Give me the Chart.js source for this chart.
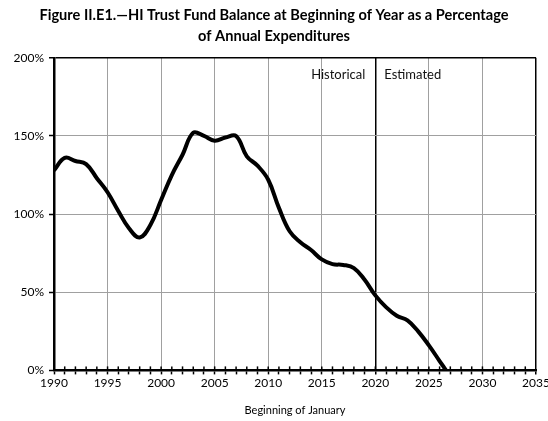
<!DOCTYPE html>
<html>
<head>
<meta charset="utf-8">
<script src="https://cdn.jsdelivr.net/npm/chart.js@4"></script>
<style>
html,body{margin:0;padding:0;background:#fff;}
#wrap{width:548px;height:421px;}
</style>
</head>
<body>
<div id="wrap"><canvas id="c"></canvas></div>
<script>
const titleLines = ["Figure II.E1.\u2014HI Trust Fund Balance at Beginning of Year as a Percentage", "of Annual Expenditures"];
const xAxisTitle = "Beginning of January";
const years = [1990,1991,1992,1993,1994,1995,1996,1997,1998,1999,2000,2001,2002,2003,2004,2005,2006,2007,2008,2009,2010,2011,2012,2013,2014,2015,2016,2017,2018,2019,2020,2021,2022,2023,2024,2025,2026,2026.6];
const balancePct = [128,136,134,132,123,114,102,91,85,93,109,125,138,152,150,147,149,150,137,131,122,104,89,82,77,71,68,67.5,65.5,58,48,40.5,35,32,25,16,6,0];
const historicalLabel = "Historical";
const estimatedLabel = "Estimated";
const dividerYear = 2020;
const xMin = 1990, xMax = 2035, yMin = 0, yMax = 200;

const FONT = "Lato, 'Open Sans', sans-serif";

const overlay = {
  id: 'overlay',
  afterDatasetsDraw(chart) {
    const ctx = chart.ctx;
    const xs = chart.scales.x, ys = chart.scales.y;
    const y0 = ys.getPixelForValue(0);
    ctx.save();
    ctx.strokeStyle = '#000';
    ctx.lineWidth = 1.5;
    for (let v = xMin + 1; v < xMax; v++) {
      const px = xs.getPixelForValue(v);
      ctx.beginPath();
      ctx.moveTo(px, y0);
      ctx.lineTo(px, y0 - 4);
      ctx.stroke();
    }
    const dx = xs.getPixelForValue(dividerYear);
    const ty = ys.getPixelForValue(189);
    ctx.fillStyle = '#111';
    ctx.font = "13px " + FONT;
    ctx.textBaseline = 'middle';
    ctx.textAlign = 'right';
    ctx.fillText(historicalLabel, dx - 10, ty);
    ctx.textAlign = 'left';
    ctx.fillText(estimatedLabel, dx + 9, ty);
    ctx.restore();
  }
};

new Chart(document.getElementById('c'), {
  type: 'line',
  data: {
    datasets: [{
      data: years.map((y, i) => ({x: y, y: balancePct[i]})),
      borderColor: '#000',
      borderWidth: 4,
      pointRadius: 0,
      tension: 0.4,
      fill: false
    }]
  },
  options: {
    responsive: true,
    maintainAspectRatio: false,
    animation: false,
    layout: {padding: {left: 0, right: 0, top: 0, bottom: 4}},
    plugins: {
      legend: {display: false},
      tooltip: {enabled: false},
      title: {
        display: true,
        text: titleLines,
        color: '#000',
        font: {family: FONT, size: 14.6, weight: 'bold', lineHeight: 1.45},
        padding: {top: 4.5, bottom: 11}
      }
    },
    scales: {
      x: {
        type: 'linear',
        min: xMin, max: xMax,
        ticks: {
          stepSize: 1,
          autoSkip: false,
          maxRotation: 0,
          color: '#000',
          font: {family: FONT, size: 12},
          padding: 2,
          callback: v => (v % 5 === 0 ? String(v) : '')
        },
        grid: {
          color: c => {
            const v = c.tick ? c.tick.value : null;
            if (v === dividerYear || v === xMax) return '#000';
            return v % 5 === 0 ? '#a0a0a0' : 'rgba(0,0,0,0)';
          },
          lineWidth: c => {
            const v = c.tick ? c.tick.value : null;
            if (v === dividerYear || v === xMax) return 1.5;
            return 1;
          },
          tickColor: '#000',
          tickLength: 4,
          tickWidth: 1.5
        },
        border: {color: '#000', width: 2.5},
        title: {
          display: true,
          text: xAxisTitle,
          color: '#000',
          font: {family: FONT, size: 11},
          padding: {top: 11, bottom: 0}
        },
        afterFit: s => { s.paddingRight = 12; }
      },
      y: {
        min: yMin, max: yMax,
        ticks: {
          stepSize: 50,
          color: '#000',
          font: {family: FONT, size: 12},
          padding: 5,
          callback: v => v + '%'
        },
        grid: {
          color: c => (c.tick && c.tick.value === yMax ? '#000' : '#a0a0a0'),
          lineWidth: c => (c.tick && c.tick.value === yMax ? 1.5 : 1),
          tickColor: '#000',
          tickLength: 5,
          tickWidth: 1.5
        },
        border: {color: '#000', width: 2.5},
        afterFit: s => { s.width = 54; }
      }
    }
  },
  plugins: [overlay]
});
</script>
</body>
</html>
